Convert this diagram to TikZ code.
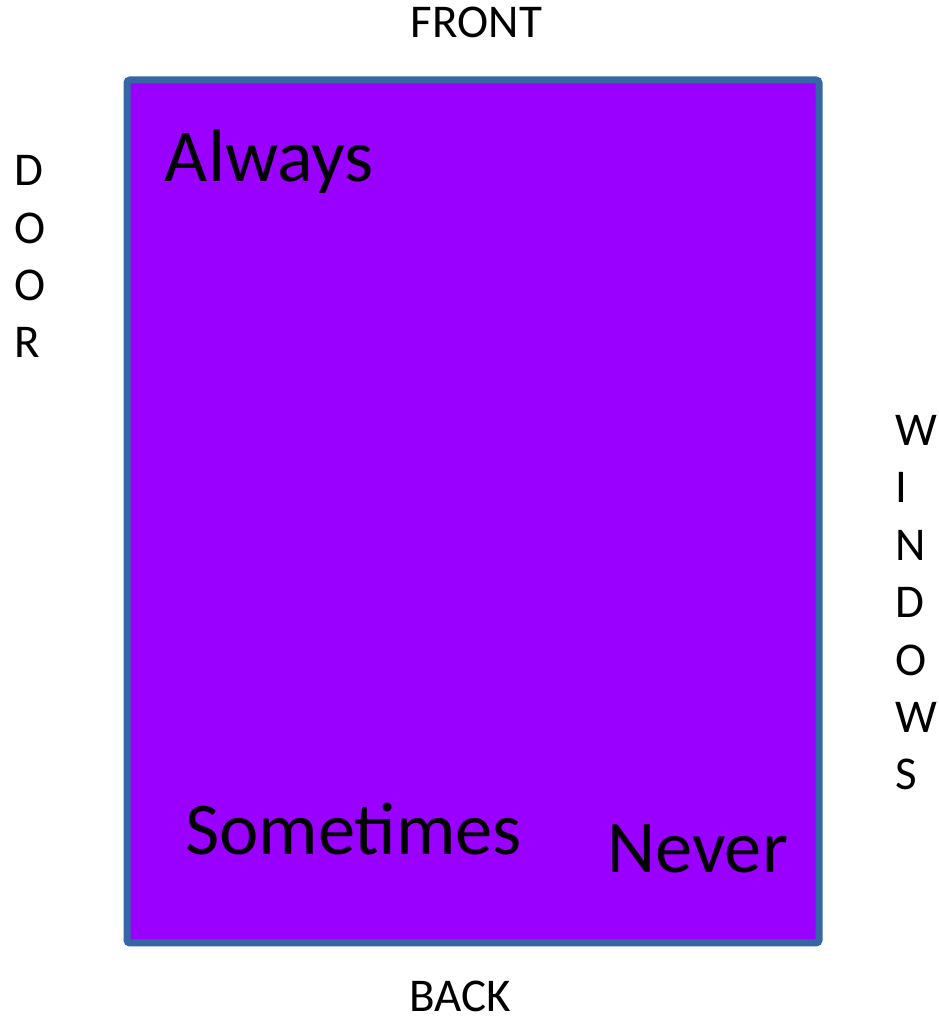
\documentclass[tikz,border=0pt]{standalone}
\usepackage{fontspec}
\setmainfont{Carlito}
\definecolor{roomfill}{RGB}{153,0,255}
\definecolor{roomedge}{RGB}{53,103,165}
\begin{document}
\begin{tikzpicture}[x=1pt,y=1pt,
  side/.style={font=\fontsize{47}{57.4}\selectfont, inner sep=0pt},
  big/.style={font=\fontsize{74.5}{86}\selectfont, inner sep=0pt, anchor=base}]
\useasboundingbox (0,0) rectangle (938,1018);
\node[draw=roomedge, fill=roomfill, line width=7pt, rounded corners=3pt,
  minimum width=692pt, minimum height=863pt, inner sep=0pt] (room) at (473,506.5) {};
\node[side, anchor=base] (front) at (476.5,980) {FRONT};
\node[side, anchor=base, text depth=0pt] (back) at (460.5,6) {BACK};
\node[side, align=left, anchor=base west] (door) at (14,660) {D\\O\\O\\R};
\node[side, align=left, anchor=base west] (windows) at (895,228) {W\\I\\N\\D\\O\\W\\S};
\node[big] (always) at (269.5,836) {Always};
\node[big] (sometimes) at (353.5,163) {Sometimes};
\node[big] (never) at (697.5,145) {Never};
\end{tikzpicture}
\end{document}
